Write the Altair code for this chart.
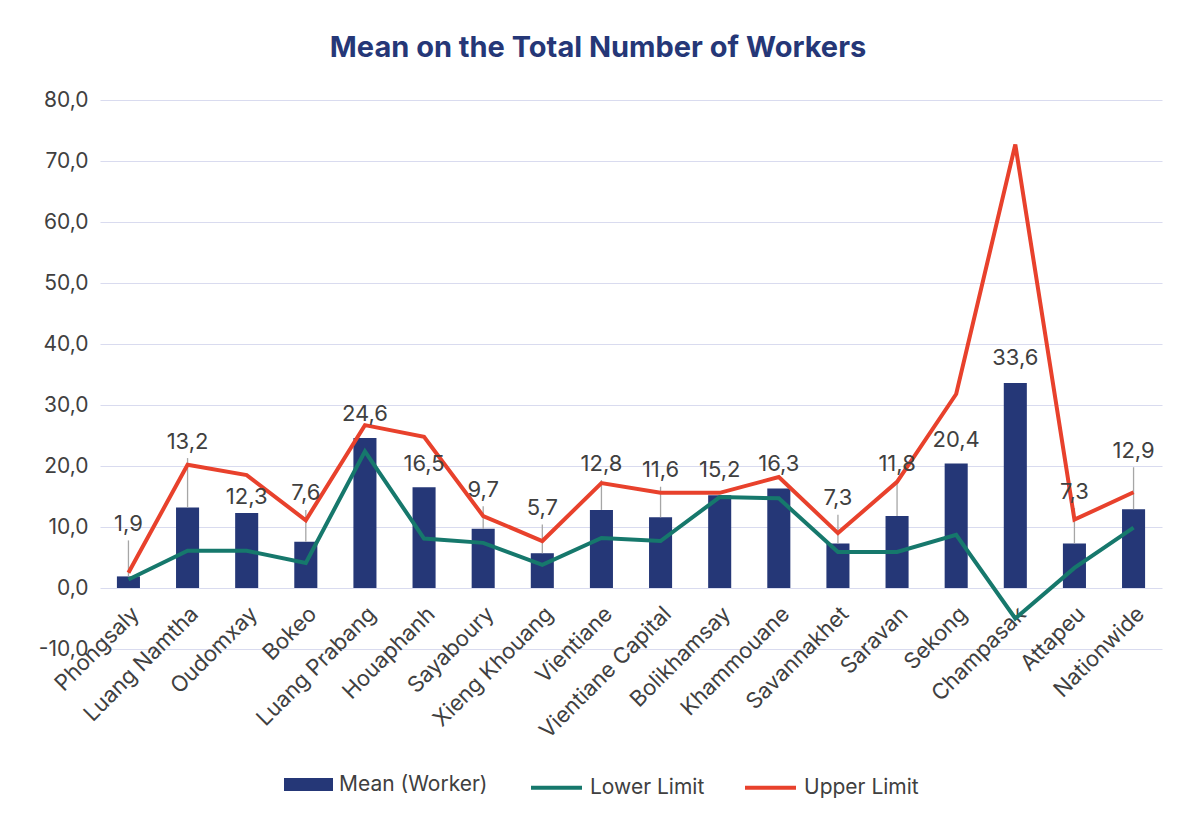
import altair as alt
import pandas as pd

provinces = ["Phongsaly", "Luang Namtha", "Oudomxay", "Bokeo", "Luang Prabang",
             "Houaphanh", "Sayaboury", "Xieng Khouang", "Vientiane",
             "Vientiane Capital", "Bolikhamsay", "Khammouane", "Savannakhet",
             "Saravan", "Sekong", "Champasak", "Attapeu", "Nationwide"]
mean_worker = [1.9, 13.2, 12.3, 7.6, 24.6, 16.5, 9.7, 5.7, 12.8, 11.6, 15.2,
               16.3, 7.3, 11.8, 20.4, 33.6, 7.3, 12.9]
lower_limit = [1.4, 6.1, 6.1, 4.1, 22.4, 8.1, 7.4, 3.8, 8.2, 7.7, 14.9, 14.7,
               5.9, 5.9, 8.7, -5.0, 3.3, 9.9]
upper_limit = [2.5, 20.2, 18.5, 11.1, 26.7, 24.8, 11.8, 7.7, 17.2, 15.6, 15.6,
               18.2, 9.0, 17.4, 31.8, 72.7, 11.2, 15.7]
# value-axis level at which each data label sits
label_at = [10.5, 24.0, 15.0, 15.5, 28.6, 20.4, 16.1, 13.1, 20.4, 19.3, 19.3,
            20.4, 14.7, 20.4, 24.3, 37.7, 15.8, 22.5]

NAVY = "#253777"
GREEN = "#16786C"
RED = "#E8412C"
TXT = "#404040"
GRID = "#D9DBEF"
FONT = "Inter"

bars_df = pd.DataFrame({
    "province": provinces,
    "mean": mean_worker,
    "label_at": label_at,
    "series": ["Mean (Worker)"] * len(provinces),
})
lines_df = pd.DataFrame({
    "province": provinces * 2,
    "value": lower_limit + upper_limit,
    "series": ["Lower Limit"] * len(provinces) + ["Upper Limit"] * len(provinces),
})

x_enc = alt.X(
    "province:N", sort=provinces, title=None,
    scale=alt.Scale(paddingInner=0.61, paddingOuter=0.286),
    axis=alt.Axis(labelAngle=-45, labelAlign="right", labelBaseline="top",
                  labelFont=FONT, labelFontSize=22, labelColor=TXT,
                  domain=False, ticks=False, grid=False, offset=-52,
                  labelPadding=6, labelLimit=300),
)
y_scale = alt.Scale(domain=[-10, 80], nice=False, zero=False)
y_axis = alt.Axis(values=list(range(-10, 81, 10)),
                  labelExpr="replace(replace(format(datum.value, '.1f'), '.', ','), '\u2212', '-')",
                  labelFont=FONT, labelFontSize=21, labelColor=TXT,
                  labelPadding=12, domain=False, ticks=False,
                  grid=True, gridColor=GRID, gridWidth=1.2)

bars = alt.Chart(bars_df).mark_bar().encode(
    x=x_enc,
    y=alt.Y("mean:Q", scale=y_scale, axis=y_axis, title=None),
    fill=alt.Fill("series:N",
                  scale=alt.Scale(domain=["Mean (Worker)"], range=[NAVY]),
                  legend=alt.Legend(orient="none", legendX=184, legendY=660,
                                    direction="horizontal", title=None,
                                    symbolType="M-1,-0.265L1,-0.265L1,0.265L-1,0.265Z",
                                    symbolSize=2401, symbolStrokeWidth=0,
                                    labelFont=FONT, labelFontSize=21,
                                    labelColor=TXT, labelOffset=6)),
)

leaders = alt.Chart(bars_df).transform_filter(
    "datum.label_at - datum.mean > 5"
).transform_calculate(
    top="datum.label_at - 2.7"
).mark_rule(color="#A6A6A6", strokeWidth=1.3).encode(
    x=x_enc,
    y=alt.Y("mean:Q", scale=y_scale, axis=y_axis, title=None),
    y2="top:Q",
)

lines = alt.Chart(lines_df).mark_line(strokeWidth=4).encode(
    x=x_enc,
    y=alt.Y("value:Q", scale=y_scale, axis=y_axis, title=None),
    stroke=alt.Stroke("series:N",
                      scale=alt.Scale(domain=["Lower Limit", "Upper Limit"],
                                      range=[GREEN, RED]),
                      legend=alt.Legend(orient="none", legendX=429, legendY=660,
                                        direction="horizontal", title=None,
                                        symbolType="stroke", symbolSize=2601,
                                        symbolStrokeWidth=4, columnPadding=32,
                                        labelFont=FONT, labelFontSize=21,
                                        labelColor=TXT, labelOffset=6)),
)

labels = alt.Chart(bars_df).transform_calculate(
    txt="replace(format(datum.mean, '.1f'), '.', ',')"
).mark_text(font=FONT, fontSize=22, color=TXT, baseline="middle",
            align="center").encode(
    x=x_enc,
    y=alt.Y("label_at:Q", scale=y_scale, axis=y_axis, title=None),
    text="txt:N",
)

chart = alt.layer(bars, leaders, lines, labels).properties(
    width=1062,
    height=549,
    background="white",
    autosize=alt.AutoSizeParams(type="none"),
    padding={"left": 92, "top": 92, "right": 16, "bottom": 160},
    title=alt.TitleParams("Mean on the Total Number of Workers", font=FONT,
                          fontSize=29, fontWeight="bold", color=NAVY,
                          anchor="middle", dx=-33, offset=26),
).configure_view(stroke=None)

chart.save("out.html", embed_options={"renderer": "svg", "actions": False})
